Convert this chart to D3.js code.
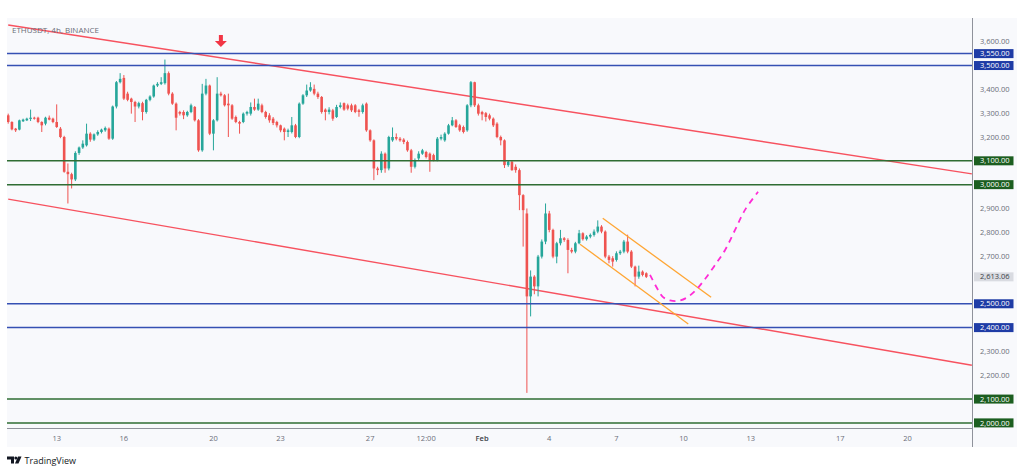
<!DOCTYPE html>
<html><head><meta charset="utf-8">
<script src="https://cdn.jsdelivr.net/npm/d3@7"></script>
<style>
body{margin:0;background:#fff}
svg{display:block;font-family:"Open Sans","Noto Sans",sans-serif}
</style>
</head><body>
<svg id="chart" width="1024" height="472"></svg>
<script>
// ---------- data ----------
const symbolTitle = "ETHUSDT, 4h, BINANCE";
const startTime = "2025-01-10T20:00:00Z";   // first 4h candle
const candleHours = 4;
// [open, high, low, close]
const candles = [
[3291,3298,3256,3263],[3263,3266,3228,3232],[3235,3238,3221,3228],[3231,3273,3228,3270],
[3266,3277,3263,3273],[3270,3281,3267,3277],[3276,3315,3267,3281],[3281,3285,3273,3277],
[3281,3285,3258,3263],[3263,3266,3221,3249],[3256,3285,3249,3281],[3281,3290,3270,3273],
[3277,3281,3258,3263],[3263,3337,3238,3242],[3235,3242,3195,3200],[3200,3205,3050,3054],
[3054,3089,2921,3044],[3044,3050,2984,3022],[3022,3140,3015,3133],[3133,3160,3125,3156],
[3156,3186,3150,3172],[3165,3256,3160,3214],[3214,3220,3180,3189],[3189,3215,3183,3211],
[3211,3228,3205,3221],[3221,3235,3215,3231],[3228,3244,3222,3238],[3235,3240,3188,3193],
[3193,3332,3188,3328],[3328,3435,3320,3430],[3430,3468,3425,3444],[3448,3460,3355,3361],
[3382,3390,3350,3356],[3361,3365,3298,3347],[3347,3352,3263,3328],[3328,3348,3320,3342],
[3342,3348,3270,3305],[3305,3360,3298,3356],[3356,3375,3350,3370],[3370,3420,3365,3416],
[3416,3430,3410,3423],[3423,3451,3418,3430],[3426,3525,3420,3468],[3468,3475,3375,3382],
[3382,3388,3335,3340],[3340,3345,3228,3281],[3305,3310,3290,3298],[3305,3312,3275,3291],
[3291,3310,3285,3305],[3305,3340,3300,3333],[3326,3330,3265,3270],[3270,3275,3138,3144],
[3144,3423,3138,3382],[3382,3444,3375,3416],[3416,3420,3208,3214],[3214,3275,3144,3270],
[3270,3451,3265,3382],[3382,3390,3370,3375],[3375,3380,3328,3333],[3340,3382,3200,3333],
[3333,3338,3272,3277],[3284,3290,3258,3263],[3263,3268,3214,3256],[3263,3303,3258,3298],
[3298,3310,3290,3305],[3298,3345,3290,3326],[3326,3361,3310,3315],[3315,3361,3310,3340],
[3333,3340,3300,3305],[3305,3310,3277,3284],[3291,3300,3260,3270],[3277,3284,3250,3259],
[3263,3268,3240,3249],[3249,3252,3220,3228],[3235,3240,3186,3221],[3221,3235,3200,3228],
[3221,3284,3215,3249],[3249,3255,3195,3200],[3200,3345,3195,3340],[3340,3380,3335,3375],
[3375,3420,3368,3395],[3395,3430,3390,3409],[3402,3420,3375,3382],[3382,3390,3360,3368],
[3368,3372,3298,3305],[3315,3320,3270,3305],[3305,3325,3295,3315],[3312,3318,3268,3277],
[3284,3335,3280,3326],[3326,3345,3320,3333],[3342,3345,3310,3315],[3333,3340,3312,3319],
[3333,3340,3305,3312],[3333,3338,3300,3305],[3312,3318,3285,3305],[3305,3340,3298,3333],
[3340,3345,3222,3228],[3228,3232,3180,3186],[3186,3190,3019,3068],[3068,3075,3040,3061],
[3061,3140,3050,3130],[3130,3135,3050,3068],[3068,3205,3060,3200],[3186,3240,3180,3200],
[3200,3215,3186,3193],[3193,3200,3180,3186],[3189,3195,3170,3179],[3179,3185,3138,3144],
[3144,3150,3050,3075],[3075,3110,3068,3103],[3110,3140,3100,3130],[3130,3150,3125,3144],
[3137,3142,3110,3116],[3130,3135,3054,3103],[3124,3130,3098,3103],[3103,3200,3098,3193],
[3193,3210,3186,3200],[3186,3220,3180,3214],[3214,3255,3210,3249],[3249,3284,3245,3270],
[3270,3275,3238,3242],[3249,3255,3222,3228],[3242,3248,3215,3221],[3228,3338,3222,3333],
[3333,3435,3325,3430],[3430,3432,3326,3333],[3333,3340,3290,3298],[3305,3310,3270,3295],
[3300,3305,3265,3284],[3291,3298,3270,3277],[3277,3282,3242,3249],[3256,3262,3195,3200],
[3200,3206,3165,3186],[3186,3190,3070,3082],[3082,3100,3075,3096],[3096,3100,3058,3061],
[3075,3085,3050,3061],[3061,3068,2893,2956],[2956,2960,2740,2893],[2879,2900,2126,2531],
[2531,2640,2447,2614],[2614,2620,2540,2573],[2573,2705,2531,2698],[2698,2770,2690,2761],
[2761,2921,2750,2879],[2879,2890,2800,2810],[2810,2815,2691,2698],[2698,2760,2670,2754],
[2754,2810,2745,2775],[2775,2780,2760,2768],[2768,2775,2628,2726],[2726,2735,2712,2719],
[2719,2760,2712,2754],[2754,2810,2750,2796],[2796,2800,2765,2771],[2771,2788,2765,2782],
[2782,2795,2775,2789],[2789,2812,2782,2803],[2803,2850,2796,2824],[2824,2830,2796,2803],
[2803,2808,2691,2698],[2698,2705,2670,2684],[2691,2700,2656,2677],[2684,2720,2677,2712],
[2712,2726,2705,2719],[2719,2768,2712,2761],[2761,2790,2712,2719],[2719,2725,2650,2656],
[2656,2660,2573,2614],[2614,2660,2605,2635],[2635,2640,2615,2621],[2628,2632,2608,2613.06]
];
const lastPrice = 2613.06;
const priceTicks = [3600,3400,3300,3200,2900,2800,2700,2300,2200];
const blueLevels = [3550,3500,2500,2400];
const greenLevels = [3100,3000,2100,2000];
const timeTicks = ["2025-01-13","2025-01-16","2025-01-20","2025-01-23","2025-01-27","2025-01-29T12:00:00Z",
  "2025-02-01","2025-02-04","2025-02-07","2025-02-10","2025-02-13","2025-02-17","2025-02-20"];
const timeLabels = ["13","16","20","23","27","12:00","Feb","4","7","10","13","17","20"];
const upperTrend = [["2025-01-10T20:00:00Z",3670],["2025-02-22T21:00:00Z",3045]];
const lowerTrend = [["2025-01-10T20:00:00Z",2939],["2025-02-22T21:00:00Z",2242]];
const channelUpper = [["2025-02-06T09:20:00Z",2859],["2025-02-11T05:30:00Z",2527]];
const channelLower = [["2025-02-05T09:00:00Z",2750],["2025-02-10T05:00:00Z",2415]];
const projection = [
["2025-02-08T12:00:00Z",2621],["2025-02-08T20:40:00Z",2558],["2025-02-09T02:00:00Z",2528],
["2025-02-09T09:30:00Z",2514],["2025-02-09T18:00:00Z",2512],["2025-02-10T02:40:00Z",2524],
["2025-02-10T12:20:00Z",2554],["2025-02-10T23:00:00Z",2604],["2025-02-11T09:45:00Z",2663],
["2025-02-11T20:30:00Z",2726],["2025-02-12T07:10:00Z",2810],["2025-02-12T17:50:00Z",2894],
["2025-02-13T07:50:00Z",2970]];
const arrowTip = ["2025-01-20T08:00:00Z",3578];

// ---------- layout ----------
const W = 1024, H = 472;
const plot = {left:7, right:972, top:18, bottom:428};
const frameRight = 1017, frameBottom = 447;
const C = {
  bg:"#f8f9fc", axis:"#8f929b", text:"#6a6d78", up:"#26a69a", down:"#ef5350",
  blue:"#3550b3", blueBox:"#1f3ca6", green:"#2f6d33", greenBox:"#1c5e20",
  trend:"#f7525f", orange:"#ffa634", magenta:"#ff2bd6", arrow:"#f23645"
};

const svg = d3.select("#chart");
const x = d3.scaleUtc()
  .domain([new Date("2025-01-13T00:00:00Z"), new Date("2025-02-20T00:00:00Z")])
  .range([56.7, 907.5]);
const y = d3.scaleLinear().domain([2000, 3600]).range([422.9, 41.7]);
const t0 = new Date(startTime).getTime();
const data = candles.map((c, i) => ({t:new Date(t0 + i*candleHours*3600e3), o:c[0], h:c[1], l:c[2], c:c[3]}));

svg.append("rect").attr("width",W).attr("height",H).attr("fill","#fff");
svg.append("rect").attr("x",plot.left).attr("y",plot.top)
  .attr("width",frameRight-plot.left).attr("height",frameBottom-plot.top).attr("fill",C.bg);

svg.append("defs").append("clipPath").attr("id","clip").append("rect")
  .attr("x",plot.left).attr("y",plot.top).attr("width",plot.right-plot.left).attr("height",plot.bottom-plot.top);
const g = svg.append("g").attr("clip-path","url(#clip)");

// trend lines
const line = d3.line().x(d => x(new Date(d[0]))).y(d => y(d[1]));
[upperTrend, lowerTrend].forEach(tl => g.append("path").attr("d", line(tl))
  .attr("fill","none").attr("stroke",C.trend).attr("stroke-width",1.4));

// candles
const bw = 2.6;
const cg = g.append("g");
cg.selectAll("line").data(data).join("line")
  .attr("x1", d => x(d.t)).attr("x2", d => x(d.t))
  .attr("y1", d => y(d.h)).attr("y2", d => y(d.l))
  .attr("stroke", d => d.c >= d.o ? C.up : C.down).attr("stroke-width",1);
cg.selectAll("rect").data(data).join("rect")
  .attr("x", d => x(d.t) - bw/2).attr("width", bw)
  .attr("y", d => y(Math.max(d.o,d.c)))
  .attr("height", d => Math.max(1, Math.abs(y(d.o)-y(d.c))))
  .attr("fill", d => d.c >= d.o ? C.up : C.down);

// horizontal levels
blueLevels.forEach(v => g.append("line").attr("x1",plot.left).attr("x2",plot.right)
  .attr("y1",y(v)).attr("y2",y(v)).attr("stroke",C.blue).attr("stroke-width",1.5));
greenLevels.forEach(v => g.append("line").attr("x1",plot.left).attr("x2",plot.right)
  .attr("y1",y(v)).attr("y2",y(v)).attr("stroke",C.green).attr("stroke-width",1.5));

// channel
[channelUpper, channelLower].forEach(tl => g.append("path").attr("d", line(tl))
  .attr("fill","none").attr("stroke",C.orange).attr("stroke-width",1.3));

// projection
g.append("path").attr("d", d3.line().curve(d3.curveCatmullRom)
    .x(d => x(new Date(d[0]))).y(d => y(d[1]))(projection))
  .attr("fill","none").attr("stroke",C.magenta).attr("stroke-width",1.8)
  .attr("stroke-dasharray","6,5");

// arrow
const ax = x(new Date(arrowTip[0])), ay = y(arrowTip[1]);
g.append("path").attr("fill",C.arrow)
  .attr("d", `M${ax},${ay} L${ax-6},${ay-6} L${ax-2},${ay-6} L${ax-2},${ay-12} L${ax+2},${ay-12} L${ax+2},${ay-6} L${ax+6},${ay-6} Z`);

// axes lines
svg.append("line").attr("x1",plot.right+0.5).attr("x2",plot.right+0.5).attr("y1",plot.top).attr("y2",frameBottom)
  .attr("stroke",C.axis).attr("stroke-width",1);
svg.append("line").attr("x1",plot.left).attr("x2",plot.right).attr("y1",plot.bottom+0.5).attr("y2",plot.bottom+0.5)
  .attr("stroke",C.axis).attr("stroke-width",1);

// price labels
const fmt = d3.format(",.2f");
const pa = svg.append("g").attr("font-size","7.5px");
priceTicks.forEach(v => pa.append("text").attr("x",980).attr("y",y(v)).attr("dy","0.35em")
  .attr("fill",C.text).text(fmt(v)));
function boxLabel(v, fill, color){
  pa.append("rect").attr("x",974).attr("y",y(v)-4.5).attr("width",39.5).attr("height",9).attr("fill",fill);
  pa.append("text").attr("x",980).attr("y",y(v)).attr("dy","0.35em").attr("fill",color).text(fmt(v));
}
blueLevels.forEach(v => boxLabel(v, C.blueBox, "#fff"));
greenLevels.forEach(v => boxLabel(v, C.greenBox, "#fff"));
boxLabel(lastPrice, "#d9dbe1", "#3a3d46");

// time labels
const ta = svg.append("g").attr("font-size","7.5px").attr("text-anchor","middle");
timeTicks.forEach((t, i) => ta.append("text").attr("x", x(new Date(t))).attr("y", 438).attr("dy","0.35em")
  .attr("fill", timeLabels[i] === "Feb" ? "#3a3d46" : C.text)
  .attr("font-weight", timeLabels[i] === "Feb" ? 600 : 400).text(timeLabels[i]));

// title
svg.append("text").attr("x",12).attr("y",30).attr("dy","0.35em").attr("font-size","8px")
  .attr("fill",C.text).text(symbolTitle);

// TradingView logo
const lg = svg.append("g").attr("fill","#131722");
lg.append("path").attr("d","M7,456.5 h7 v7 h-3 v-4 h-4 Z");
lg.append("circle").attr("cx",15.8).attr("cy",458).attr("r",1.5);
lg.append("path").attr("d","M18,456.5 h3.5 l-3,7 h-3.5 Z");
svg.append("text").attr("x",24.5).attr("y",460.5).attr("dy","0.35em").attr("font-size","9px")
  .attr("fill","#131722").text("TradingView");
</script>
</body></html>
